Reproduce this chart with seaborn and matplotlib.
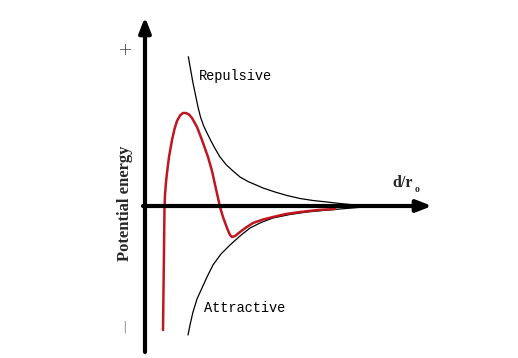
import matplotlib
matplotlib.use("Agg")
import matplotlib.pyplot as plt
import seaborn as sns
import pandas as pd

# Repulsive energy curve (d/r0, energy)
rep_x = [0.866, 0.91, 0.96, 1.01, 1.06, 1.11, 1.17, 1.24, 1.32, 1.40, 1.50, 1.62, 1.76,
         1.90, 2.06, 2.20, 2.36, 2.60, 2.84, 3.10, 3.36, 3.64, 3.90, 4.10, 4.26]
rep_y = [2.986, 2.74, 2.46, 2.22, 1.98, 1.78, 1.61, 1.46, 1.30, 1.15, 0.98, 0.83, 0.70,
         0.58, 0.49, 0.43, 0.36, 0.28, 0.21, 0.15, 0.11, 0.08, 0.05, 0.03, 0.01]

# Attractive energy curve
att_x = [0.86, 0.90, 0.96, 1.04, 1.14, 1.24, 1.36, 1.52, 1.70, 1.90, 2.10, 2.32,
         2.56, 2.90, 3.24, 3.56, 3.90, 4.26]
att_y = [-2.58, -2.38, -2.12, -1.86, -1.64, -1.42, -1.18, -0.96, -0.78, -0.60, -0.44, -0.33,
         -0.24, -0.17, -0.12, -0.09, -0.06, -0.03]

# Net potential energy curve
net_x = [0.36, 0.37, 0.38, 0.39, 0.40, 0.42, 0.44, 0.48, 0.54, 0.59, 0.64, 0.70,
         0.76, 0.82, 0.88, 0.94, 1.04, 1.14, 1.26, 1.34, 1.42, 1.50, 1.56, 1.64,
         1.70, 1.74, 1.80, 1.90, 2.02, 2.16, 2.36, 2.56, 2.82, 3.10, 3.46, 3.80]
net_y = [-2.48, -1.68, -0.88, -0.02, 0.22, 0.48, 0.66, 0.98, 1.32, 1.54, 1.70, 1.81,
         1.86, 1.86, 1.83, 1.76, 1.58, 1.32, 0.98, 0.70, 0.34, -0.02, -0.22, -0.44,
         -0.58, -0.62, -0.60, -0.52, -0.43, -0.34, -0.27, -0.22, -0.16, -0.12, -0.08, -0.06]

labels = {"rep": "Repulsive", "att": "Attractive", "y": "Potential energy",
          "x": "d/r", "xsub": "o", "plus": "+", "minus": "|"}

sns.set_style("white")

fig = plt.figure(figsize=(5.18, 3.58), dpi=100)
ax = fig.add_axes([0, 0, 1, 1])
ax.set_xlim(-2.9, 7.46)
ax.set_ylim(-3.04, 4.12)
ax.axis("off")

rep = pd.DataFrame({"x": rep_x, "y": rep_y})
att = pd.DataFrame({"x": att_x, "y": att_y})
net = pd.DataFrame({"x": net_x, "y": net_y})

sns.lineplot(data=rep, x="x", y="y", ax=ax, color="black", lw=0.9, sort=False, estimator=None)
sns.lineplot(data=att, x="x", y="y", ax=ax, color="black", lw=0.9, sort=False, estimator=None)
sns.lineplot(data=net, x="x", y="y", ax=ax, color="#c0161f", lw=1.8, sort=False, estimator=None)
for ln in ax.lines:
    ln.set_solid_joinstyle("round")

# axes arrows
ax.annotate("", xy=(0, 3.78), xytext=(0, -2.92),
            arrowprops=dict(arrowstyle="-|>,head_length=0.9,head_width=0.35",
                            lw=3, color="black", shrinkA=0, shrinkB=0), zorder=5)
ax.annotate("", xy=(5.74, 0), xytext=(-0.04, 0),
            arrowprops=dict(arrowstyle="-|>,head_length=0.9,head_width=0.35",
                            lw=3, color="black", shrinkA=0, shrinkB=0), zorder=5)

ax.text(1.08, 2.6, labels["rep"], family="Liberation Mono", fontsize=9.8,
        ha="left", va="center", color="black")
ax.text(1.18, -2.04, labels["att"], family="Liberation Mono", fontsize=9.8,
        ha="left", va="center", color="black")
ax.text(-0.40, 0.06, labels["y"], family="Liberation Serif", fontweight="bold",
        fontsize=12, rotation=90, ha="center", va="center")
ax.text(4.94, 0.38, labels["x"], family="Liberation Serif", fontweight="bold",
        fontsize=11.5, ha="left", va="baseline")
ax.text(5.40, 0.28, labels["xsub"], family="Liberation Serif", fontweight="bold",
        fontsize=7, ha="left", va="baseline")
ax.text(-0.40, 3.12, labels["plus"], family="DejaVu Sans", fontsize=13,
        fontweight="light", ha="center", va="center", color="#444444")
ax.text(-0.42, -2.42, labels["minus"], family="DejaVu Sans", fontsize=9,
        fontweight="light", ha="center", va="center", color="#444444")

fig.savefig("out.png", dpi=100)
